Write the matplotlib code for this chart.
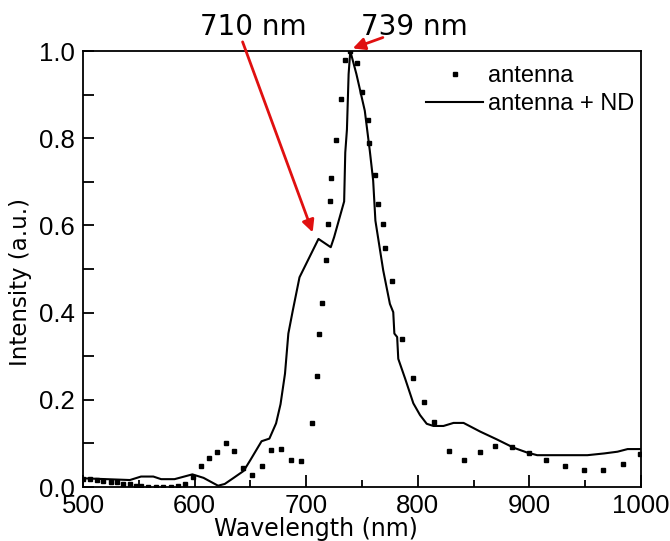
import matplotlib
matplotlib.use("Agg")
import matplotlib.pyplot as plt
from matplotlib.ticker import MultipleLocator

# antenna (dots)
antenna_wl = [500.3, 506.3, 512.3, 518.2, 524.8, 530.7, 536.1, 542.1, 547.5, 551.7,
              558.5, 565.4, 572.0, 578.6, 585.1, 591.7, 598.8, 605.7, 612.9, 620.0,
              627.8, 635.6, 643.7, 651.4, 660.1, 668.5, 677.1, 686.1, 695.0, 704.9,
              709.7, 711.2, 714.3, 717.5, 719.4, 721.2, 722.2, 726.6, 730.9, 734.8,
              739.5, 745.3, 750.0, 755.1, 756.4, 761.5, 764.6, 768.5, 770.9, 776.6,
              785.8, 795.5, 805.3, 814.5, 828.2, 841.7, 855.4, 869.4, 884.4, 899.6,
              915.2, 931.6, 948.6, 966.0, 984.1, 999.1]
antenna_int = [0.018, 0.0175, 0.016, 0.0145, 0.012, 0.0107, 0.008, 0.006, 0.003, 0.002,
               0.001, 0.0, 0.0, 0.001, 0.002, 0.008, 0.024, 0.048, 0.067, 0.081,
               0.100, 0.083, 0.043, 0.028, 0.049, 0.085, 0.088, 0.062, 0.059, 0.146,
               0.255, 0.351, 0.421, 0.520, 0.603, 0.657, 0.708, 0.795, 0.889, 0.979,
               1.0, 0.973, 0.907, 0.842, 0.789, 0.715, 0.649, 0.603, 0.549, 0.472,
               0.339, 0.249, 0.194, 0.149, 0.083, 0.063, 0.081, 0.093, 0.092, 0.079,
               0.061, 0.048, 0.040, 0.039, 0.053, 0.076]

# antenna + ND (line)
nd_wl = [500, 542, 552, 563, 570, 582, 598, 608, 621, 627, 635, 644, 650, 660, 667,
         673, 677, 681, 684, 688, 694, 711, 722, 725, 734, 735, 736.5, 738, 739.5,
         745, 752.5, 757, 760, 762, 769, 775, 778, 779, 781.5, 782.5, 788.6, 796,
         802, 808, 814, 823, 832, 841, 856, 871, 886, 898, 907, 925, 952, 967, 979,
         988, 1000]
nd_int = [0.020, 0.016, 0.024, 0.024, 0.018, 0.018, 0.029, 0.021, 0.003, 0.007,
          0.021, 0.037, 0.062, 0.105, 0.111, 0.146, 0.190, 0.260, 0.352, 0.405,
          0.481, 0.569, 0.550, 0.573, 0.655, 0.767, 0.820, 0.947, 1.0, 0.947,
          0.863, 0.771, 0.703, 0.611, 0.497, 0.420, 0.401, 0.352, 0.344, 0.294,
          0.249, 0.192, 0.165, 0.145, 0.140, 0.140, 0.147, 0.147, 0.127, 0.109,
          0.090, 0.079, 0.073, 0.073, 0.073, 0.077, 0.081, 0.087, 0.087]

fig = plt.figure(figsize=(6.7, 5.41), dpi=100)
ax = fig.add_axes([0.1239, 0.0998, 0.8328, 0.8059])

ax.plot(antenna_wl, antenna_int, linestyle="none", marker="s", markersize=2.2,
        color="black", label="antenna")
ax.plot(nd_wl, nd_int, color="black", linewidth=1.5, label="antenna + ND")

ax.set_xlim(500, 1000)
ax.set_ylim(0, 1.0)
ax.xaxis.set_major_locator(MultipleLocator(100))
ax.xaxis.set_minor_locator(MultipleLocator(50))
ax.yaxis.set_major_locator(MultipleLocator(0.2))
ax.yaxis.set_minor_locator(MultipleLocator(0.1))
ax.yaxis.set_major_formatter(plt.FormatStrFormatter("%.1f"))

ax.tick_params(which="both", direction="in", top=False, right=False, width=1.3,
               labelsize=18.5, labelfontfamily="Liberation Sans")
ax.tick_params(axis="x", which="major", length=9, pad=5)
ax.tick_params(axis="x", which="minor", length=5)
ax.tick_params(axis="y", which="both", length=8, pad=6)
for s in ax.spines.values():
    s.set_linewidth(1.3)

ax.set_xlabel("Wavelength (nm)", fontsize=17, family="DejaVu Sans")
ax.xaxis.set_label_coords(0.4176, -0.069)
ax.set_ylabel("Intensity (a.u.)", fontsize=16.5, family="DejaVu Sans")
ax.yaxis.set_label_coords(-0.0914, 0.47)

leg = ax.legend(loc="upper right", bbox_to_anchor=(0.9875, 0.967), frameon=False,
                handlelength=2.4, handletextpad=0.2, borderaxespad=0, borderpad=0,
                labelspacing=0.25, prop={"family": "Liberation Sans", "size": 17})

red = "#e01010"
ax.annotate("", xy=(705.8, 0.584), xytext=(643, 1.021), annotation_clip=False,
            arrowprops=dict(arrowstyle="-|>", color=red, lw=2, mutation_scale=18,
                            shrinkA=0, shrinkB=0))
ax.annotate("", xy=(741.7, 1.006), xytext=(768.7, 1.031), annotation_clip=False,
            arrowprops=dict(arrowstyle="-|>", color=red, lw=2, mutation_scale=18,
                            shrinkA=0, shrinkB=0))
ax.text(652.6, 1.037, "710 nm", fontsize=20, family="DejaVu Sans", ha="center",
        va="baseline", clip_on=False)
ax.text(797, 1.037, "739 nm", fontsize=20, family="DejaVu Sans", ha="center",
        va="baseline", clip_on=False)

fig.savefig("out.png", dpi=100)
